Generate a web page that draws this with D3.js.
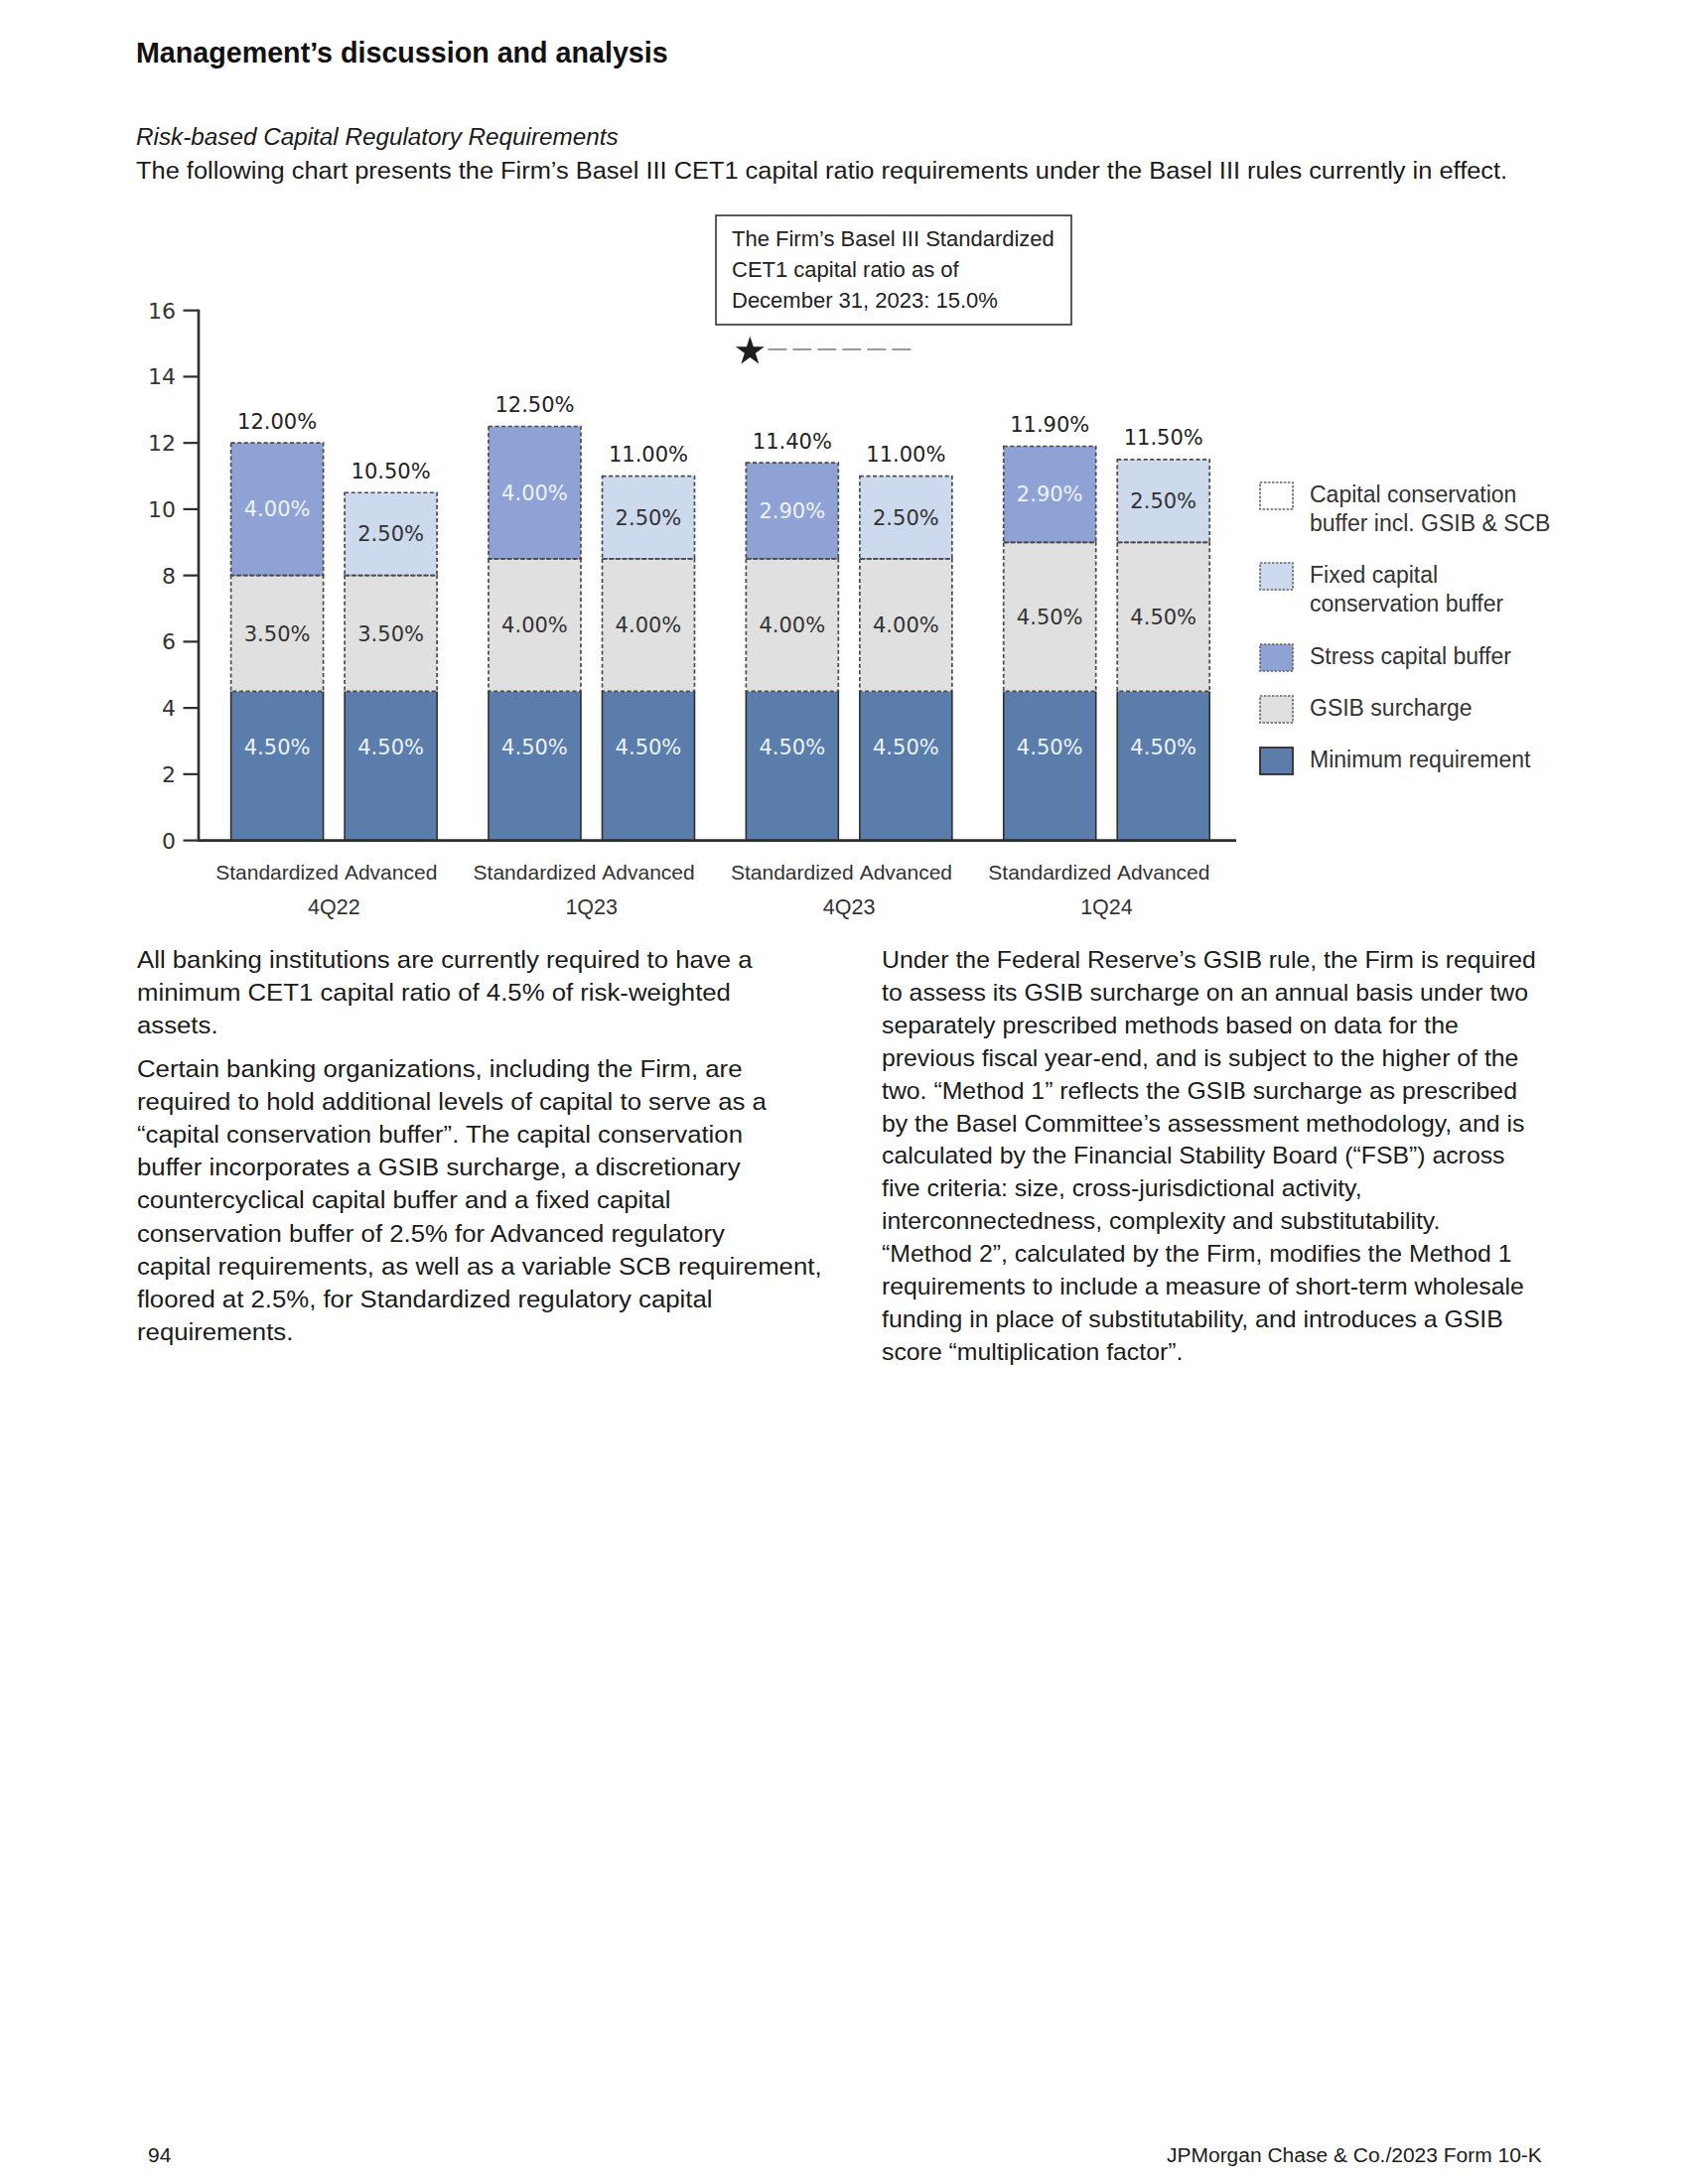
<!DOCTYPE html>
<html>
<head>
<meta charset="utf-8">
<script src="https://cdn.jsdelivr.net/npm/d3@7"></script>
<style>
  html, body { margin: 0; padding: 0; background: #fff; }
  svg { display: block; }
</style>
</head>
<body>
<svg id="page" width="1700" height="2200"></svg>
<script>
// ---------------- DATA ----------------
const quarters = ["4Q22", "1Q23", "4Q23", "1Q24"];
const methods = ["Standardized", "Advanced"];
// one value per bar, ordered 4Q22 Std, 4Q22 Adv, 1Q23 Std, 1Q23 Adv, 4Q23 Std, 4Q23 Adv, 1Q24 Std, 1Q24 Adv
const minimumRequirement = [4.5, 4.5, 4.5, 4.5, 4.5, 4.5, 4.5, 4.5];
const gsibSurcharge      = [3.5, 3.5, 4.0, 4.0, 4.0, 4.0, 4.5, 4.5];
const stressCapitalBuffer = [4.0, 0, 4.0, 0, 2.9, 0, 2.9, 0];
const fixedCapitalBuffer  = [0, 2.5, 0, 2.5, 0, 2.5, 0, 2.5];
const totalRequirement   = [12.00, 10.50, 12.50, 11.00, 11.40, 11.00, 11.90, 11.50];
const yTicks = [0, 2, 4, 6, 8, 10, 12, 14, 16];
const actualCET1 = 15.0;
const annotationLines = ["The Firm\u2019s Basel III Standardized", "CET1 capital ratio as of", "December 31, 2023: 15.0%"];
const legendLabels = [
  ["Capital conservation", "buffer incl. GSIB & SCB"],
  ["Fixed capital", "conservation buffer"],
  ["Stress capital buffer"],
  ["GSIB surcharge"],
  ["Minimum requirement"]
];
const titleText = "Management\u2019s discussion and analysis";
const subtitleItalic = "Risk-based Capital Regulatory Requirements";
const subtitleText = "The following chart presents the Firm\u2019s Basel III CET1 capital ratio requirements under the Basel III rules currently in effect.";
const leftParagraphs = [
  ["All banking institutions are currently required to have a",
   "minimum CET1 capital ratio of 4.5% of risk-weighted",
   "assets."],
  ["Certain banking organizations, including the Firm, are",
   "required to hold additional levels of capital to serve as a",
   "\u201Ccapital conservation buffer\u201D. The capital conservation",
   "buffer incorporates a GSIB surcharge, a discretionary",
   "countercyclical capital buffer and a fixed capital",
   "conservation buffer of 2.5% for Advanced regulatory",
   "capital requirements, as well as a variable SCB requirement,",
   "floored at 2.5%, for Standardized regulatory capital",
   "requirements."]
];
const rightLines = [
  "Under the Federal Reserve\u2019s GSIB rule, the Firm is required",
  "to assess its GSIB surcharge on an annual basis under two",
  "separately prescribed methods based on data for the",
  "previous fiscal year-end, and is subject to the higher of the",
  "two. \u201CMethod 1\u201D reflects the GSIB surcharge as prescribed",
  "by the Basel Committee\u2019s assessment methodology, and is",
  "calculated by the Financial Stability Board (\u201CFSB\u201D) across",
  "five criteria: size, cross-jurisdictional activity,",
  "interconnectedness, complexity and substitutability.",
  "\u201CMethod 2\u201D, calculated by the Firm, modifies the Method 1",
  "requirements to include a measure of short-term wholesale",
  "funding in place of substitutability, and introduces a GSIB",
  "score \u201Cmultiplication factor\u201D."
];
const footerLeft = "94";
const footerRight = "JPMorgan Chase & Co./2023 Form 10-K";

// ---------------- SETUP ----------------
const svg = d3.select("#page");
svg.append("rect").attr("width", 1700).attr("height", 2200).attr("fill", "#fff");
const FONT = "'Liberation Sans', Arial, sans-serif";
const NUMFONT = "'DejaVu Sans', Verdana, sans-serif";
const TXT = "#1b1b1b";

function fitText(sel, x, y, target) {
  const w = sel.node().getComputedTextLength();
  const s = target / w;
  sel.attr("x", 0).attr("y", 0).attr("transform", `translate(${x},${y}) scale(${s},1)`);
  return s;
}

// Title and intro
fitText(svg.append("text").text(titleText).attr("font-family", FONT).attr("font-weight", "bold")
  .attr("font-size", 30).attr("fill", "#111"), 137, 63, 536);
fitText(svg.append("text").text(subtitleItalic).attr("font-family", FONT).attr("font-style", "italic")
  .attr("font-size", 24).attr("fill", TXT), 137, 146, 486);
fitText(svg.append("text").text(subtitleText).attr("font-family", FONT)
  .attr("font-size", 24).attr("fill", TXT), 137, 180, 1382);

// ---------------- CHART ----------------
const rows = [];
quarters.forEach((q, qi) => methods.forEach((m, mi) => {
  const i = qi * 2 + mi;
  rows.push({
    quarter: q, method: m,
    minimum: minimumRequirement[i], gsib: gsibSurcharge[i],
    stress: stressCapitalBuffer[i], fixed: fixedCapitalBuffer[i],
    total: totalRequirement[i]
  });
}));

const y = d3.scaleLinear().domain([0, 16]).range([846.6, 312.7]);
const x0 = d3.scaleBand().domain(quarters).range([200, 1245])
  .paddingInner(0.2).paddingOuter(0.1145).align(0.549);
const x1 = d3.scaleBand().domain(methods).range([0, x0.bandwidth()]).paddingInner(0.188);
const bx = d => x0(d.quarter) + x1(d.method);

const keys = ["minimum", "gsib", "stress", "fixed"];
const fills = { minimum: "#5b7dab", gsib: "#e0e0e0", stress: "#8fa2d5", fixed: "#cdd9ec" };
const labelFill = { minimum: "#eef3fb", gsib: "#333", stress: "#eef3fb", fixed: "#333" };
const stack = d3.stack().keys(keys)(rows);

const chart = svg.append("g");
const segs = [];
stack.forEach(layer => layer.forEach(p => {
  if (p[1] - p[0] > 0) segs.push({ key: layer.key, y0: p[0], y1: p[1], v: p[1] - p[0], d: p.data });
}));

// fills
chart.selectAll("rect.fill").data(segs).join("rect")
  .attr("x", s => bx(s.d)).attr("width", x1.bandwidth())
  .attr("y", s => y(s.y1)).attr("height", s => y(s.y0) - y(s.y1))
  .attr("fill", s => fills[s.key]);

// minimum requirement solid sides
const mins = segs.filter(s => s.key === "minimum");
chart.selectAll("path.minedge").data(mins).join("path")
  .attr("d", s => `M${bx(s.d)},${y(0)}V${y(s.y1)}M${bx(s.d) + x1.bandwidth()},${y(0)}V${y(s.y1)}`)
  .attr("stroke", "#2e2e2e").attr("stroke-width", 1.6).attr("fill", "none");

// dashed outlines for buffer segments
chart.selectAll("rect.dash").data(segs.filter(s => s.key !== "minimum")).join("rect")
  .attr("x", s => bx(s.d)).attr("width", x1.bandwidth())
  .attr("y", s => y(s.y1)).attr("height", s => y(s.y0) - y(s.y1))
  .attr("fill", "none").attr("stroke", "#4a4a4a").attr("stroke-width", 1.7)
  .attr("stroke-dasharray", "4,2.6");

// segment labels
const fmt = v => d3.format(".2f")(v) + "%";
chart.selectAll("text.seg").data(segs).join("text")
  .attr("x", s => bx(s.d) + x1.bandwidth() / 2)
  .attr("y", s => (y(s.y0) + y(s.y1)) / 2 + 7.5 - (s.key === "minimum" ? 19 : 0))
  .attr("text-anchor", "middle").attr("font-family", NUMFONT).attr("font-size", 21)
  .attr("fill", s => labelFill[s.key]).text(s => fmt(s.v));

// total labels
chart.selectAll("text.total").data(rows).join("text")
  .attr("x", d => bx(d) + x1.bandwidth() / 2)
  .attr("y", d => y(d.total) - 14.5)
  .attr("text-anchor", "middle").attr("font-family", NUMFONT).attr("font-size", 21)
  .attr("fill", "#222").text(d => fmt(d.total));

// y axis
const yAxis = chart.append("g");
yAxis.append("line").attr("x1", 200).attr("x2", 200).attr("y1", y(16) - 1).attr("y2", y(0))
  .attr("stroke", "#2e2e2e").attr("stroke-width", 2.6);
yAxis.selectAll("line.tick").data(yTicks).join("line")
  .attr("x1", 184.5).attr("x2", 200).attr("y1", d => y(d)).attr("y2", d => y(d))
  .attr("stroke", "#2e2e2e").attr("stroke-width", 2.2);
yAxis.selectAll("text").data(yTicks).join("text")
  .attr("x", 177).attr("y", d => y(d) + 8).attr("text-anchor", "end")
  .attr("font-family", NUMFONT).attr("font-size", 22).attr("fill", "#333").text(d => d);

// x axis
chart.append("line").attr("x1", 199).attr("x2", 1245).attr("y1", y(0)).attr("y2", y(0))
  .attr("stroke", "#2e2e2e").attr("stroke-width", 2.6);
chart.selectAll("text.method").data(rows).join("text")
  .attr("x", d => bx(d) + x1.bandwidth() / 2).attr("y", 886)
  .attr("text-anchor", "middle").attr("font-family", FONT).attr("font-size", 21)
  .attr("fill", "#333").text(d => d.method);
chart.selectAll("text.quarter").data(quarters).join("text")
  .attr("x", q => x0(q) + x0.bandwidth() / 2).attr("y", 921)
  .attr("text-anchor", "middle").attr("font-family", FONT).attr("font-size", 21.5)
  .attr("fill", "#333").text(q => q);

// annotation box
const ann = svg.append("g");
ann.append("rect").attr("x", 721).attr("y", 217).attr("width", 358).attr("height", 110)
  .attr("fill", "#fff").attr("stroke", "#333").attr("stroke-width", 1.6);
ann.selectAll("text").data(annotationLines).join("text")
  .attr("x", 737).attr("y", (d, i) => 248 + i * 31)
  .attr("font-family", FONT).attr("font-size", 22).attr("fill", "#222").text(d => d);
const starX = x0("4Q23") + 4;
ann.append("line").attr("x1", starX + 18).attr("x2", starX + 167)
  .attr("y1", y(actualCET1) + 6).attr("y2", y(actualCET1) + 6)
  .attr("stroke", "#9a9a9a").attr("stroke-width", 2).attr("stroke-dasharray", "19,6");
ann.append("path").attr("d", d3.symbol(d3.symbolStar).size(260)())
  .attr("transform", `translate(${starX},${y(actualCET1) + 8})`).attr("fill", "#1e1e1e");

// legend
const legendTops = [486, 567, 649, 701, 753];
const legendStyles = [
  { fill: "#fff", dash: true },
  { fill: fills.fixed, dash: true },
  { fill: fills.stress, dash: true },
  { fill: fills.gsib, dash: true },
  { fill: fills.minimum, dash: false }
];
const leg = svg.append("g");
legendLabels.forEach((lines, i) => {
  const g = leg.append("g").attr("transform", `translate(1269,${legendTops[i]})`);
  g.append("rect").attr("width", 33).attr("height", 27).attr("fill", legendStyles[i].fill)
    .attr("stroke", legendStyles[i].dash ? "#666" : "#2e2e2e").attr("stroke-width", legendStyles[i].dash ? 1.6 : 1.8)
    .attr("stroke-dasharray", legendStyles[i].dash ? "2.5,1.5" : null);
  lines.forEach((t, j) => {
    g.append("text").attr("x", 50).attr("y", 20 + j * 28.5)
      .attr("font-family", FONT).attr("font-size", 23).attr("fill", "#333").text(t);
  });
});

// ---------------- BODY TEXT ----------------
const body = svg.append("g");
function column(items, x, firstWidth) {
  let s = null;
  items.forEach(item => {
    const t = body.append("text").text(item.text).attr("font-family", FONT)
      .attr("font-size", 24).attr("fill", TXT);
    if (s === null) s = firstWidth / t.node().getComputedTextLength();
    t.attr("transform", `translate(${x},${item.y}) scale(${s},1)`);
  });
}
const leftItems = [];
let ly = 975;
leftParagraphs.forEach((p, pi) => {
  if (pi > 0) ly += 10;
  p.forEach(t => { leftItems.push({ text: t, y: ly }); ly += 33.2; });
});
column(leftItems, 138, 620);
column(rightLines.map((t, i) => ({ text: t, y: 975 + i * 32.9 })), 888, 659);

// footer
svg.append("text").text(footerLeft).attr("x", 149).attr("y", 2178)
  .attr("font-family", FONT).attr("font-size", 21).attr("fill", TXT);
fitText(svg.append("text").text(footerRight).attr("font-family", FONT).attr("font-size", 21)
  .attr("fill", TXT), 1175, 2178, 378);
</script>
</body>
</html>
